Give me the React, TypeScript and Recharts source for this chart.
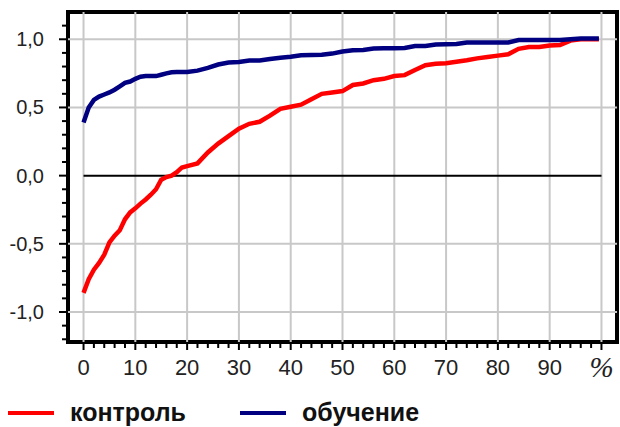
import React from 'react';
import { LineChart, Line, XAxis, YAxis, ReferenceLine, ReferenceArea } from 'recharts';

// percent of sample (x), sorted
const pct = [
  0, 1, 2, 3, 4, 5, 6, 7, 8, 9, 10, 11, 12, 13, 14, 15, 16, 17, 18, 19, 20,
  22, 24, 26, 28, 30, 32, 34, 36, 38, 40, 42, 44, 46, 48, 50, 52, 54, 56, 58,
  60, 62, 64, 66, 68, 70, 72, 74, 76, 78, 80, 82, 84, 86, 88, 90, 92, 94, 96, 98, 99.5,
];

const control = [
  -0.86, -0.76, -0.69, -0.64, -0.58, -0.49, -0.44, -0.4, -0.32, -0.27, -0.24, -0.205, -0.175, -0.14, -0.1, -0.03, -0.01, 0.0, 0.025, 0.06, 0.07,
  0.09, 0.17, 0.235, 0.29, 0.345, 0.38, 0.395, 0.44, 0.49, 0.505, 0.52, 0.56, 0.6, 0.61, 0.62, 0.665, 0.676, 0.7, 0.71,
  0.73, 0.737, 0.775, 0.81, 0.82, 0.824, 0.835, 0.846, 0.86, 0.87, 0.88, 0.89, 0.93, 0.943, 0.943, 0.955, 0.958, 0.99, 1.0, 1.0, 1.0,
];

const training = [
  0.39, 0.5, 0.555, 0.58, 0.595, 0.61, 0.63, 0.655, 0.68, 0.69, 0.71, 0.725, 0.73, 0.73, 0.73, 0.74, 0.75, 0.758, 0.76, 0.76, 0.76,
  0.77, 0.79, 0.815, 0.83, 0.833, 0.845, 0.845, 0.855, 0.865, 0.872, 0.883, 0.885, 0.886, 0.895, 0.91, 0.92, 0.922, 0.932, 0.934,
  0.934, 0.936, 0.95, 0.95, 0.962, 0.963, 0.965, 0.976, 0.976, 0.976, 0.976, 0.977, 0.995, 0.995, 0.995, 0.995, 0.995, 1.0, 1.005, 1.005, 1.005,
];

const xTicks = [
  0, 2, 4, 6, 8, 10, 12, 14, 16, 18, 20, 22, 24, 26, 28, 30, 32, 34, 36, 38, 40, 42, 44, 46, 48, 50,
  52, 54, 56, 58, 60, 62, 64, 66, 68, 70, 72, 74, 76, 78, 80, 82, 84, 86, 88, 90, 92, 94, 96, 98, 100,
];
const xGrid = [0, 10, 20, 30, 40, 50, 60, 70, 80, 90, 100];
const yTicks = [
  -1.2, -1.1, -1.0, -0.9, -0.8, -0.7, -0.6, -0.5, -0.4, -0.3, -0.2, -0.1, 0,
  0.1, 0.2, 0.3, 0.4, 0.5, 0.6, 0.7, 0.8, 0.9, 1.0, 1.1,
];
const yLabels = [-1.0, -0.5, 0, 0.5, 1.0];
const yGrid = [-1.0, -0.5, 0.5, 1.0];

const data = pct.map((x, i) => ({ x, control: control[i], training: training[i] }));

const RED = '#ff0000';
const NAVY = '#000080';
const isMajorY = (v: number) => yLabels.some((l) => Math.abs(l - v) < 1e-6);

const XTick = (props: any) => {
  const { x, y, payload } = props;
  const v = payload.value;
  const major = v % 10 === 0;
  return (
    <g>
      <line x1={x} x2={x} y1={y + 2} y2={y + (major ? 8 : 6)} stroke="#000" strokeWidth={2} />
      {major && v < 100 && (
        <text x={x} y={y + 33} textAnchor="middle" fontSize={22} fontFamily="Arial, 'Liberation Sans'" fill="#222">
          {v}
        </text>
      )}
      {v === 100 && (
        <text x={x} y={y + 35} textAnchor="middle" fontSize={29} fontStyle="italic" fontFamily="'Liberation Serif', serif" fill="#222">
          %
        </text>
      )}
    </g>
  );
};

const YTick = (props: any) => {
  const { x, y, payload } = props;
  const v = payload.value;
  const major = isMajorY(v);
  return (
    <g>
      <line x1={x - 2} x2={x - (major ? 9 : 6)} y1={y} y2={y} stroke="#000" strokeWidth={2} />
      {major && (
        <text x={x - 24} y={y + 7} textAnchor="end" fontSize={20} fontFamily="Arial, 'Liberation Sans'" fill="#222">
          {v.toFixed(1).replace('.', ',')}
        </text>
      )}
    </g>
  );
};

export default function App() {
  return (
    <div style={{ position: 'absolute', left: 0, top: 0, width: 620, height: 427, background: '#fff' }}>
      <LineChart width={620} height={392} data={data} margin={{ top: 12, right: 3, bottom: 0, left: 0 }}>
        {xGrid.map((v) => (
          <ReferenceLine key={'gx' + v} x={v} stroke="#c8c8c8" strokeWidth={2} />
        ))}
        {yGrid.map((v) => (
          <ReferenceLine key={'gy' + v} y={v} stroke="#c8c8c8" strokeWidth={2} />
        ))}
        <ReferenceLine segment={[{ x: 0, y: 0 }, { x: 100, y: 0 }]} stroke="#000" strokeWidth={2} />
        <XAxis
          type="number"
          dataKey="x"
          domain={[-3, 103]}
          ticks={xTicks}
          interval={0}
          allowDataOverflow
          axisLine={false}
          tickLine={false}
          tickSize={0}
          tickMargin={0}
          height={50}
          tick={<XTick />}
        />
        <YAxis
          type="number"
          domain={[-1.22, 1.2]}
          ticks={yTicks}
          interval={0}
          allowDataOverflow
          axisLine={false}
          tickLine={false}
          tickSize={0}
          tickMargin={0}
          width={68}
          tick={<YTick />}
        />
        <Line type="linear" dataKey="control" stroke={RED} strokeWidth={4.5} dot={false} isAnimationActive={false} />
        <Line type="linear" dataKey="training" stroke={NAVY} strokeWidth={4.5} dot={false} isAnimationActive={false} />
        <ReferenceArea x1={-3} x2={103} y1={-1.22} y2={1.2} fill="none" stroke="#000" strokeWidth={4} ifOverflow="visible" />
      </LineChart>
      <div
        style={{
          position: 'absolute',
          left: 8,
          top: 398,
          display: 'flex',
          alignItems: 'center',
          fontFamily: "Arial, 'Liberation Sans', sans-serif",
          fontWeight: 'bold',
          fontSize: 25,
          color: '#111',
        }}
      >
        <div style={{ display: 'flex', alignItems: 'center', width: 232 }}>
          <span style={{ display: 'inline-block', width: 46, height: 4, background: RED, marginRight: 16 }} />
          <span>контроль</span>
        </div>
        <div style={{ display: 'flex', alignItems: 'center' }}>
          <span style={{ display: 'inline-block', width: 46, height: 4, background: NAVY, marginRight: 16 }} />
          <span>обучение</span>
        </div>
      </div>
    </div>
  );
}
